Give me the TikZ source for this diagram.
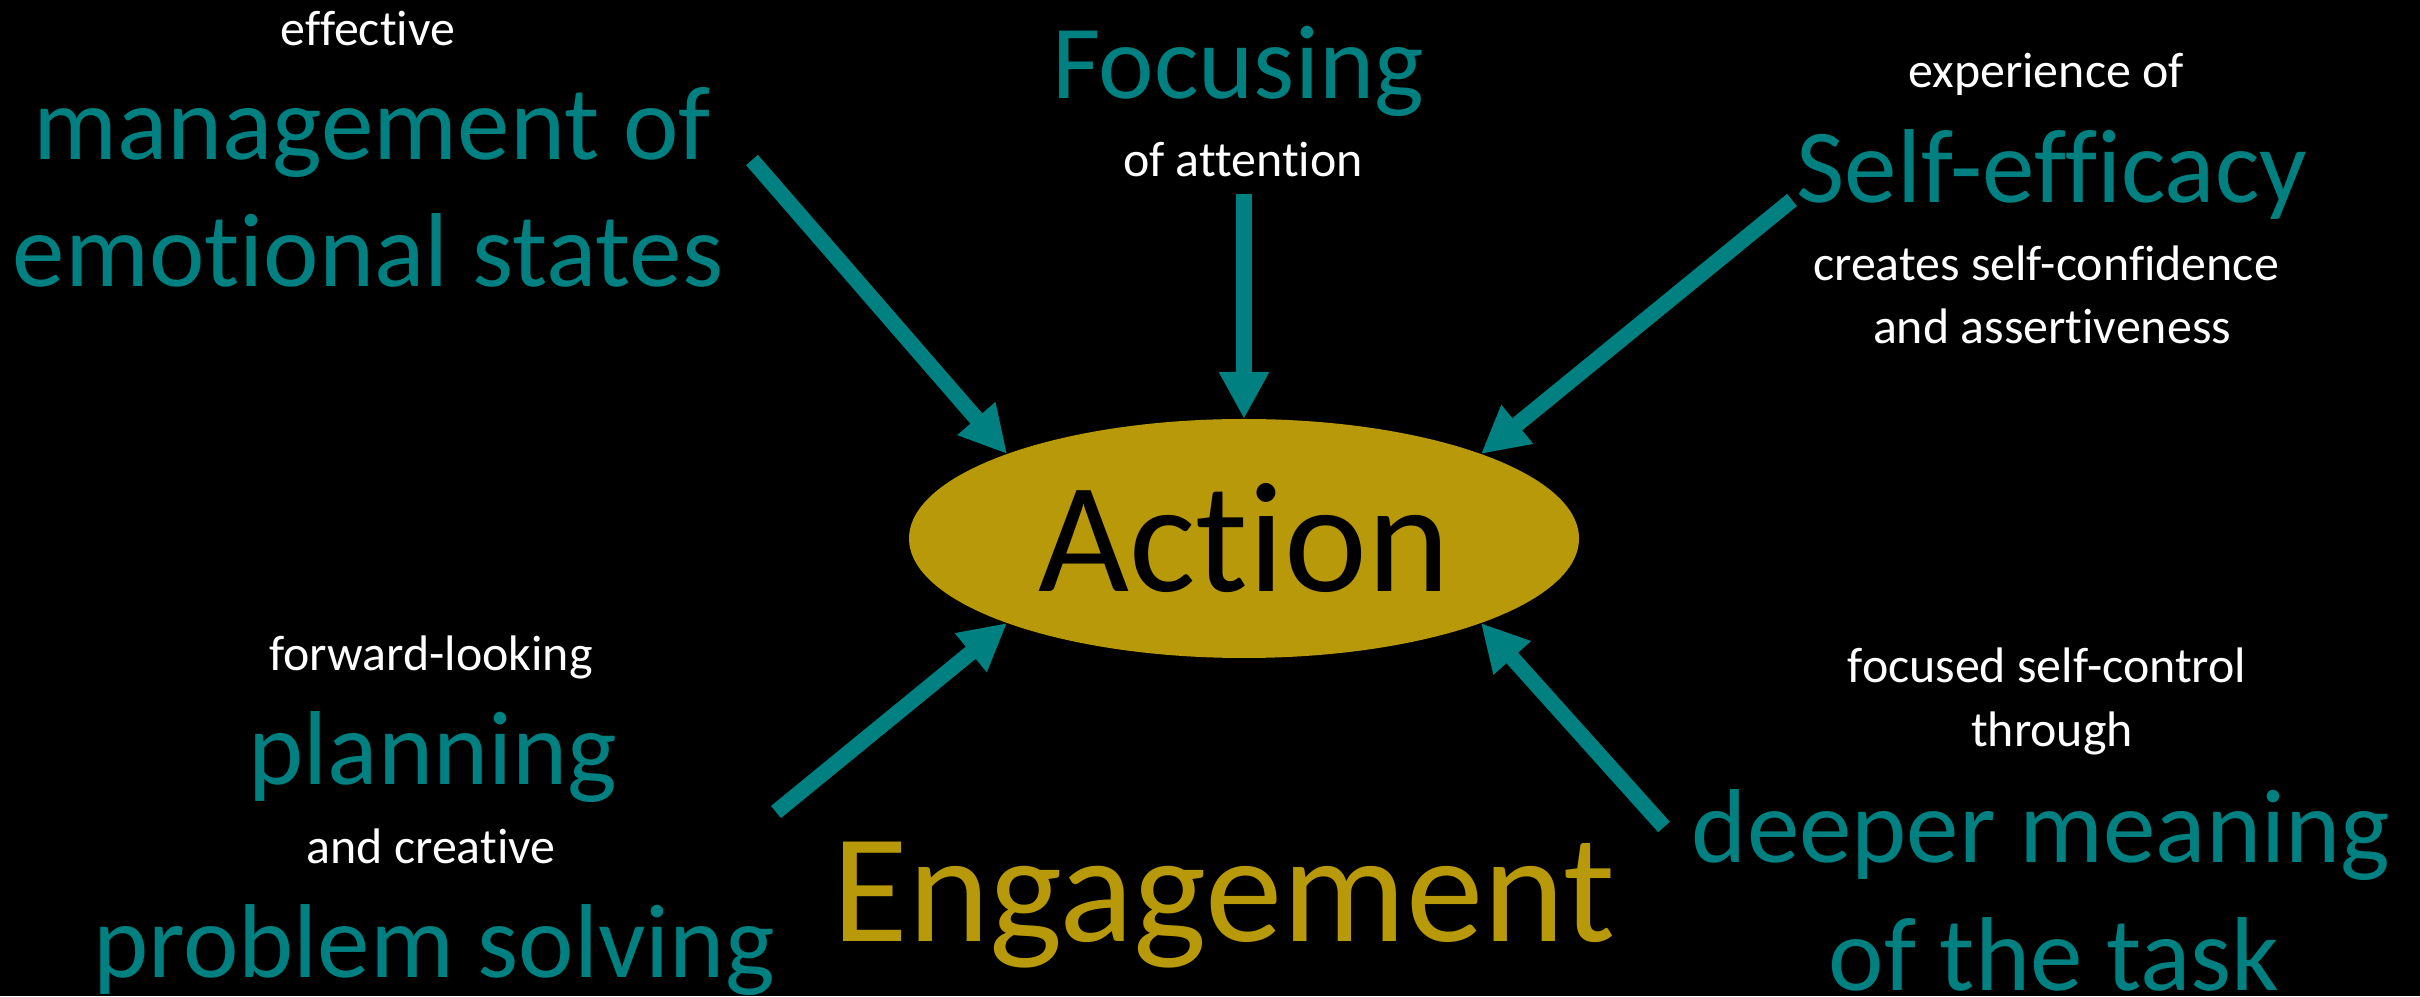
\documentclass[tikz,border=0pt]{standalone}
\usepackage{fontspec}
\setmainfont{Carlito}[Ligatures=NoCommon]
\usetikzlibrary{arrows.meta,shapes.geometric}
\definecolor{arrowteal}{RGB}{0,128,128}
\definecolor{actgold}{RGB}{184,153,9}

\begin{document}
\begin{tikzpicture}[
  small/.style={anchor=base,text=white,font=\fontsize{14.2}{17}\selectfont},
  big/.style={anchor=base,text=arrowteal,font=\fontsize{29.9}{36}\selectfont},
  push/.style={arrowteal,line width=1.57mm,-{Triangle[width=4.7mm,length=4.7mm]}}
]
\useasboundingbox (0,0) rectangle (24.2,9.96);
\fill[black] (0,0) rectangle (24.2,9.96);

% centre
\node[ellipse,fill=actgold,minimum width=6.7cm,minimum height=2.39cm,
  inner sep=0pt,outer sep=0pt,font=\fontsize{44.7}{50}\selectfont] (act) at (12.44,4.575) {Action};
\node[anchor=base,text=actgold,font=\fontsize{44.1}{50}\selectfont] (eng) at (12.24,0.55) {Engagement};

% top left
\node[small] (eff) at (3.68,9.50) {effective};
\node[big] (mgmt) at (3.72,8.36) {management of};
\node[big] (emo) at (3.68,7.09) {emotional states};

% top
\node[big] (foc) at (12.38,8.97) {Focusing};
\node[small] (att) at (12.43,8.19) {of attention};

% top right
\node[small] (exp) at (20.46,9.08) {experience of};
\node[big] (self) at (20.52,7.93) {Self-efficacy};
\node[small] (conf) at (20.46,7.15) {creates self-confidence};
\node[small] (assert) at (20.52,6.52) {and assertiveness};

% bottom left
\node[small] (fwd) at (4.31,3.25) {forward-looking};
\node[big] (plan) at (4.33,2.12) {planning};
\node[small] (crea) at (4.31,1.33) {and creative};
\node[big] (prob) at (4.34,0.19) {problem solving};

% bottom right
\node[small] (ctrl) at (20.47,3.13) {focused self-control};
\node[small] (thr) at (20.52,2.49) {through};
\node[big] (deep) at (20.41,1.34) {deeper meaning};
\node[big] (task) at (20.54,0.06) {of the task};

% arrows into the ellipse
\coordinate (fromtl) at (7.52,8.36);
\coordinate (fromt) at (12.44,8.02);
\coordinate (fromtr) at (17.92,7.96);
\coordinate (frombl) at (7.76,1.84);
\coordinate (frombr) at (16.64,1.69);

\draw[push] (fromtl) -- (act.north west);
\draw[push] (fromt) -- (act.north);
\draw[push] (fromtr) -- (act.north east);
\draw[push] (frombl) -- (act.south west);
\draw[push] (frombr) -- (act.south east);
\end{tikzpicture}
\end{document}
